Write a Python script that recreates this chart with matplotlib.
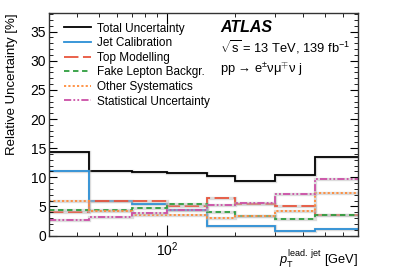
import matplotlib
matplotlib.use("Agg")
import matplotlib.pyplot as plt
from matplotlib.ticker import MultipleLocator, LogLocator, NullFormatter, FixedLocator, FixedFormatter

plt.rcParams['font.family'] = ['Liberation Sans', 'DejaVu Sans']
plt.rcParams['mathtext.fontset'] = 'custom'
plt.rcParams['mathtext.rm'] = 'Liberation Sans'
plt.rcParams['mathtext.it'] = 'Liberation Sans:italic'

edges = [30, 45, 70, 100, 150, 200, 300, 450, 700]
total = [14.4, 11.1, 10.9, 10.7, 10.2, 9.4, 10.4, 13.4]
jet_calib = [11.0, 5.9, 5.4, 4.4, 1.65, 1.65, 0.8, 1.2]
top_model = [4.1, 5.95, 5.95, 5.15, 6.5, 5.4, 5.1, 3.55]
fake_lep = [4.4, 4.4, 4.8, 5.45, 4.05, 3.35, 2.85, 3.45]
other_syst = [5.95, 4.25, 3.6, 3.55, 3.05, 3.3, 4.2, 7.25]
stat_unc = [2.6, 3.1, 3.8, 4.4, 5.3, 5.5, 7.1, 9.7]

series = [
    ("Total Uncertainty", total, "#000000", "-"),
    ("Jet Calibration", jet_calib, "#2b8fd6", "-"),
    ("Top Modelling", top_model, "#e8553d", (0, (8, 2.5))),
    ("Fake Lepton Backgr.", fake_lep, "#2f9e3f", (0, (3, 2))),
    ("Other Systematics", other_syst, "#ff8c3a", (0, (1.2, 1.2))),
    ("Statistical Uncertainty", stat_unc, "#cc4fa6", (0, (4, 1.2, 1, 1.2, 1, 1.2))),
]

fig = plt.figure(figsize=(4.07, 2.79), dpi=100)
ax = fig.add_axes([0.1204, 0.1559, 0.7592, 0.7975])

for label, vals, color, ls in series:
    ax.stairs(vals, edges, color="#bbbbbb", lw=2.4, alpha=0.5, baseline=None)
    ax.stairs(vals, edges, color=color, lw=1.3, linestyle=ls, label=label, baseline=None)

ax.set_xscale('log')
ax.set_xlim(30, 700)
ax.set_ylim(0, 38.2)

ax.xaxis.set_major_locator(FixedLocator([100]))
ax.xaxis.set_major_formatter(FixedFormatter([r'$10^{2}$']))
ax.xaxis.set_minor_locator(LogLocator(base=10, subs=range(2, 10)))
ax.xaxis.set_minor_formatter(NullFormatter())
ax.yaxis.set_major_locator(MultipleLocator(5))
ax.yaxis.set_minor_locator(MultipleLocator(1))

ax.tick_params(which='both', direction='in', top=True, right=True, labelsize=10)
ax.tick_params(which='major', length=6, width=0.8)
ax.tick_params(which='minor', length=3, width=0.6)
ax.tick_params(axis='x', which='major', length=8)
ax.tick_params(axis='y', pad=2)
for s in ax.spines.values():
    s.set_linewidth(1.0)
    s.set_color('#333333')

ax.set_ylabel("Relative Uncertainty [%]", fontsize=9.5, loc='top', labelpad=9)
ax.set_xlabel(r"$p_{\mathrm{T}}^{\mathrm{lead.\ jet}}$ [GeV]", fontsize=9.3, loc='right')
ax.xaxis.set_label_coords(1.0, -0.058)
ax.xaxis.label.set_va('top')

leg = ax.legend(loc='upper left', bbox_to_anchor=(0.0485, 0.957), frameon=False,
                fontsize=8.5, handlelength=2.3, handletextpad=0.5, labelspacing=0.22,
                borderaxespad=0.0, borderpad=0.0)

ax.text(0.553, 0.937, "ATLAS", transform=ax.transAxes, fontsize=11.5,
        fontweight='bold', fontstyle='italic', va='center', ha='left')
ax.text(0.553, 0.847, r"$\sqrt{\mathrm{s}}$ = 13 TeV, 139 fb$^{\mathrm{-1}}$", transform=ax.transAxes,
        fontsize=9.3, va='center', ha='left')
ax.text(0.553, 0.748, "pp → e$^{\\pm}$νμ$^{\\mp}$ν j", transform=ax.transAxes,
        fontsize=9.3, va='center', ha='left')

fig.savefig("out.png", dpi=100)
